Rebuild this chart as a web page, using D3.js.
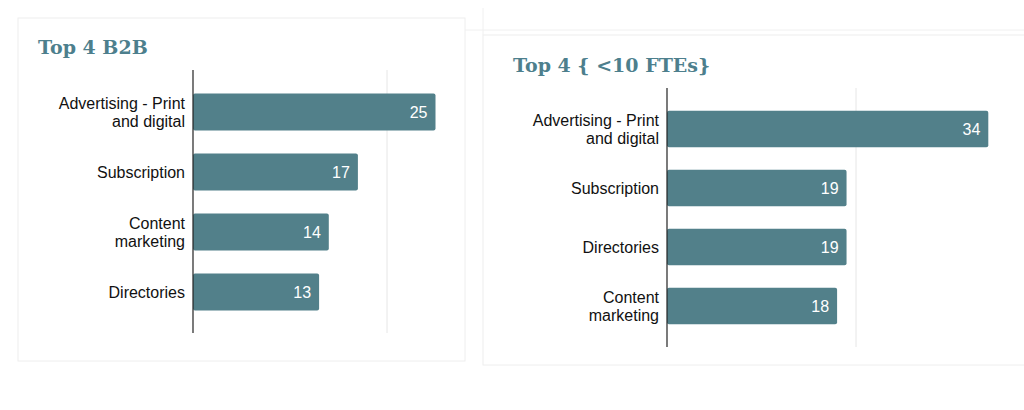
<!DOCTYPE html>
<html><head><meta charset="utf-8">
<script src="https://cdn.jsdelivr.net/npm/d3@7"></script>
<style>body{margin:0;background:#fff}</style>
</head><body>
<svg id="c" width="1024" height="410"></svg>
<script>
const leftCats = ["Advertising - Print\nand digital", "Subscription", "Content\nmarketing", "Directories"]
const leftVals = [25, 17, 14, 13]
const rightCats = ["Advertising - Print\nand digital", "Subscription", "Directories", "Content\nmarketing"]
const rightVals = [34, 19, 19, 18]

const svg = d3.select("#c")
const barColor = "#52808a"

// panel frames
svg.append("rect").attr("x", 18).attr("y", 18).attr("width", 447).attr("height", 343)
    .attr("fill", "none").attr("stroke", "#eeeeee")
svg.append("rect").attr("x", 483).attr("y", 35).attr("width", 545).attr("height", 330)
    .attr("fill", "none").attr("stroke", "#eeeeee")
svg.append("line").attr("x1", 465).attr("x2", 1024).attr("y1", 30).attr("y2", 30).attr("stroke", "#f0f0f0")
svg.append("line").attr("x1", 483).attr("x2", 483).attr("y1", 8).attr("y2", 35).attr("stroke", "#f0f0f0")

function drawPanel(cfg) {
    const g = svg.append("g")
    g.append("text").attr("x", cfg.titleX).attr("y", cfg.titleY)
        .attr("font-family", "DejaVu Serif, serif").attr("font-weight", "bold")
        .attr("font-size", 19).attr("fill", "#4d7f8d").text(cfg.title)

    const x = d3.scaleLinear().domain([0, 20]).range([cfg.x0, cfg.x20])
    const y = d3.scaleBand().domain(cfg.cats).range(cfg.band).paddingInner(0.38).paddingOuter(0.19)

    g.append("line").attr("x1", x(20)).attr("x2", x(20)).attr("y1", cfg.yTop).attr("y2", cfg.yBot)
        .attr("stroke", "#e6e6e6")

    g.selectAll("rect.bar").data(cfg.vals).join("rect").attr("class", "bar")
        .attr("x", x(0)).attr("y", (d, i) => y(cfg.cats[i]))
        .attr("width", d => x(d) - x(0)).attr("height", y.bandwidth())
        .attr("rx", 2).attr("fill", barColor)

    g.selectAll("text.val").data(cfg.vals).join("text").attr("class", "val")
        .attr("x", d => x(d) - 8).attr("y", (d, i) => y(cfg.cats[i]) + y.bandwidth() / 2)
        .attr("dy", "0.35em").attr("text-anchor", "end")
        .attr("font-family", "Liberation Sans, Arial, sans-serif").attr("font-size", 16)
        .attr("fill", "#fff").text(d => d)

    cfg.cats.forEach(c => {
        const lines = c.split("\n")
        const t = g.append("text").attr("text-anchor", "end")
            .attr("font-family", "Liberation Sans, Arial, sans-serif").attr("font-size", 16).attr("fill", "#111")
        const cy = y(c) + y.bandwidth() / 2
        lines.forEach((l, i) => {
            t.append("tspan").attr("x", x(0) - 8)
                .attr("y", cy + (i - (lines.length - 1) / 2) * 18).attr("dy", "0.35em").text(l)
        })
    })

    g.append("line").attr("x1", x(0)).attr("x2", x(0)).attr("y1", cfg.yTop).attr("y2", cfg.yBot)
        .attr("stroke", "#222").attr("stroke-width", 1.2)
}

drawPanel({ title: "Top 4 B2B", titleX: 38, titleY: 54, cats: leftCats, vals: leftVals,
    x0: 193, x20: 387, yTop: 70, yBot: 333, band: [82, 322] })
drawPanel({ title: "Top 4 { <10 FTEs}", titleX: 513, titleY: 72, cats: rightCats, vals: rightVals,
    x0: 667, x20: 856, yTop: 88, yBot: 347, band: [99.5, 335.5] })
</script>
</body></html>
